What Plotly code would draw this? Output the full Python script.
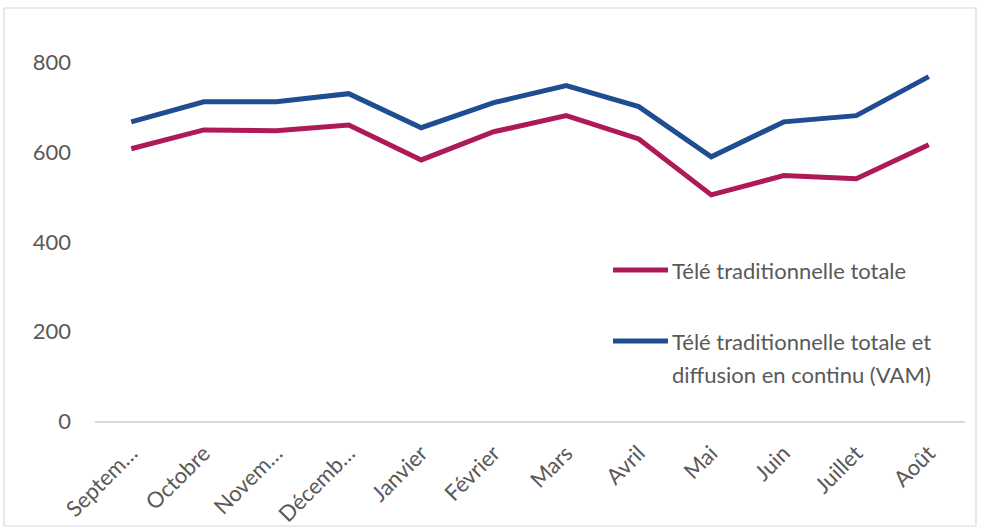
import plotly.graph_objects as go

months = ["Septem…", "Octobre", "Novem…", "Décemb…", "Janvier", "Février",
          "Mars", "Avril", "Mai", "Juin", "Juillet", "Août"]
tele_trad = [608, 650, 648, 661, 583, 646, 682, 630, 505, 548, 541, 617]
tele_trad_vam = [668, 713, 713, 731, 655, 711, 749, 702, 590, 668, 682, 769]
y_ticks = [0, 200, 400, 600, 800]

RED = "#AE1A58"
BLUE = "#1E4D91"
GRAY = "#595959"
FONT = "Lato"
FS = 22

fig = go.Figure()
fig.add_trace(go.Scatter(x=months, y=tele_trad, mode="lines",
                         line=dict(color=RED, width=5),
                         name="Télé traditionnelle totale", showlegend=False))
fig.add_trace(go.Scatter(x=months, y=tele_trad_vam, mode="lines",
                         line=dict(color=BLUE, width=5),
                         name="Télé traditionnelle totale et diffusion en continu (VAM)",
                         showlegend=False))

L, R, T, B = 95, 17, 18, 108
W, H = 982, 529
pw, ph = W - L - R, H - T - B

def px(x):
    return (x - L) / pw

def py(y):
    return (H - B - y) / ph

shapes = [
    dict(type="rect", xref="paper", yref="paper", x0=px(4), x1=px(976), y0=py(526), y1=py(8),
         line=dict(color="#D9D9D9", width=1.2), fillcolor="rgba(0,0,0,0)", layer="below"),
    dict(type="line", xref="paper", yref="paper", x0=px(613), x1=px(668), y0=py(270), y1=py(270),
         line=dict(color=RED, width=5)),
    dict(type="line", xref="paper", yref="paper", x0=px(613), x1=px(668), y0=py(341), y1=py(341),
         line=dict(color=BLUE, width=5)),
]
ann_font = dict(family=FONT, size=FS, color=GRAY)
annotations = [
    dict(xref="paper", yref="paper", x=px(670), y=py(270), xanchor="left", yanchor="middle",
         text="Télé traditionnelle totale", showarrow=False, font=ann_font),
    dict(xref="paper", yref="paper", x=px(670), y=py(341), xanchor="left", yanchor="middle",
         text="Télé traditionnelle totale et", showarrow=False, font=ann_font),
    dict(xref="paper", yref="paper", x=px(670), y=py(374), xanchor="left", yanchor="middle",
         text="diffusion en continu (VAM)", showarrow=False, font=ann_font),
]

fig.update_layout(
    width=W, height=H,
    margin=dict(l=L, r=R, t=T, b=B),
    paper_bgcolor="white", plot_bgcolor="white",
    font=dict(family=FONT, size=FS, color=GRAY),
    shapes=shapes, annotations=annotations,
    xaxis=dict(type="category", showgrid=False, showline=True, linecolor="#D9D9D9",
               linewidth=1.5, ticks="", tickangle=-45, tickfont=dict(size=FS, color=GRAY),
               range=[-0.5, len(months) - 0.5], zeroline=False, ticklabelstandoff=9,
               automargin=False),
    yaxis=dict(range=[0, 900], tickvals=y_ticks, showgrid=False, showline=False,
               zeroline=False, ticks="", tickfont=dict(size=FS, color=GRAY), ticklabelstandoff=23,
               automargin=False),
)

fig.write_html("out.html", config={"displayModeBar": False},
               post_script="document.body.style.margin='0';")
